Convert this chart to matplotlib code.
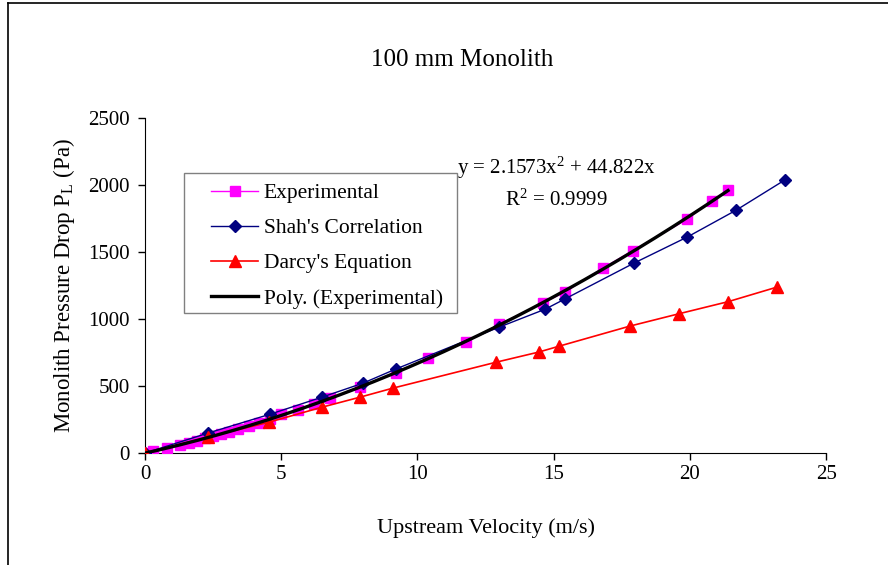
# gráfico: queda de pressão no monólito de 100 mm
import numpy as np
import matplotlib.pyplot as plt
from matplotlib.lines import Line2D
from matplotlib.patches import Rectangle

plt.rcParams['font.family'] = ['Liberation Serif', 'DejaVu Serif']
plt.rcParams['mathtext.fontset'] = 'custom'
plt.rcParams['mathtext.rm'] = 'Liberation Serif'
plt.rcParams['mathtext.it'] = 'Liberation Serif'

# dados
vel_exp = [0.0, 0.3, 0.8, 1.3, 1.6, 1.9, 2.2, 2.5, 2.8, 3.1, 3.4, 3.8, 4.2, 4.6, 5.0,
           5.6, 6.2, 6.8, 7.9, 9.2, 10.4, 11.8, 13.0, 14.6, 15.4, 16.8, 17.9, 19.9, 20.8, 21.4]
p_exp = [0, 14, 38, 62, 78, 93, 110, 126, 143, 160, 178, 202, 228, 255, 290,
         322, 370, 408, 490, 600, 710, 830, 960, 1120, 1200, 1380, 1510, 1745, 1885, 1960]

vel_shah = [0.0, 2.3, 4.6, 6.5, 8.0, 9.2, 13.0, 14.7, 15.4, 17.95, 19.9, 21.7, 23.5]
p_shah = [0, 149, 291, 418, 522, 627, 940, 1075, 1149, 1418, 1612, 1813, 2040]

vel_darcy = [0.0, 2.3, 4.55, 6.5, 7.9, 9.1, 12.9, 14.45, 15.2, 17.8, 19.6, 21.4, 23.2]
p_darcy = [0, 119, 231, 343, 418, 485, 679, 754, 798, 948, 1040, 1130, 1239]

eq_text = 'y = 2.1573x$^{2}$ + 44.822x'
r2_text = 'R$^{2}$ = 0.9999'

fig = plt.figure(figsize=(8.88, 5.65), dpi=100)
ax = fig.add_axes([0.1633, 0.198, 0.767, 0.593])

# linha de tendência polinomial (2a ordem, sem intercepto) ajustada aos dados experimentais
v = np.array(vel_exp)
A = np.column_stack([v**2, v])
coef = np.linalg.lstsq(A, np.array(p_exp), rcond=None)[0]
vfit = np.linspace(0, max(vel_exp), 200)
pfit = coef[0] * vfit**2 + coef[1] * vfit

ax.plot(vel_exp, p_exp, color='#FF00FF', marker='s', markersize=7, linewidth=1.0,
        label='Experimental', zorder=3)
ax.plot(vel_shah, p_shah, color='#000080', marker='D', markersize=6, linewidth=1.0,
        label="Shah's Correlation", zorder=4)
ax.plot(vel_darcy, p_darcy, color='#FF0000', marker='^', markersize=8, linewidth=1.2,
        label="Darcy's Equation", zorder=4)
ax.plot(vfit, pfit, color='black', linewidth=2.4, label='Poly. (Experimental)', zorder=5)

ax.set_xlim(0, 25)
ax.set_ylim(0, 2500)
ax.set_xticks([0, 5, 10, 15, 20, 25])
ax.set_yticks([0, 500, 1000, 1500, 2000, 2500])
ax.tick_params(direction='out', length=5, labelsize=15, width=1)
ax.tick_params(axis='y', pad=6)
ax.spines['top'].set_visible(False)
ax.spines['right'].set_visible(False)

ax.set_xlabel('Upstream Velocity (m/s)', fontsize=16, labelpad=25)
ax.set_ylabel('Monolith Pressure Drop P$_{\\mathrm{L}}$ (Pa)', fontsize=16.5, labelpad=8)
fig.text(0.521, 0.893, '100 mm Monolith', fontsize=18, ha='center', va='center')

ax.text(15.1, 2130, eq_text, fontsize=15, ha='center', va='center')
ax.text(15.1, 1884, r2_text, fontsize=15, ha='center', va='center')

# caixa da legenda desenhada à parte (estilo Excel)
ax.add_patch(Rectangle((0.057, 0.418), 0.401, 0.418, transform=ax.transAxes,
                       facecolor='white', edgecolor='#808080', linewidth=1.0, zorder=6))
leg = ax.legend(loc='upper left', bbox_to_anchor=(0.097, 0.806), fontsize=15.5,
                frameon=False, handlelength=2.2, labelspacing=0.7, borderpad=0,
                borderaxespad=0, handletextpad=0.25)
leg.set_zorder(7)

# moldura externa (só topo e esquerda visíveis)
fig.add_artist(Line2D([8/888, 1.0], [1 - 3/565, 1 - 3/565], color='black', linewidth=1.2,
                      transform=fig.transFigure))
fig.add_artist(Line2D([8/888, 8/888], [0, 1 - 3/565], color='black', linewidth=1.2,
                      transform=fig.transFigure))

plt.savefig('out.png', dpi=100)
